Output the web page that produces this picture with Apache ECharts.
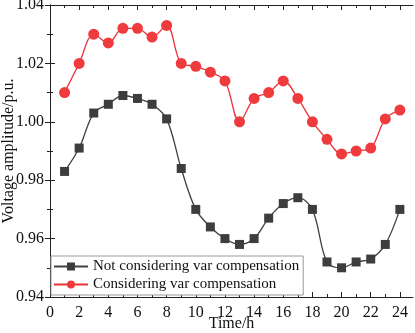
<!DOCTYPE html>
<html><head><meta charset="utf-8">
<script src="https://cdn.jsdelivr.net/npm/echarts@6/dist/echarts.min.js"></script>
<style>html,body{margin:0;padding:0;background:#fff}#c{width:415px;height:333px}</style>
</head><body><div id="c"></div>
<script>
var hours = [1,2,3,4,5,6,7,8,9,10,11,12,13,14,15,16,17,18,19,20,21,22,23,24];
var notConsidering = [0.983,0.991,1.003,1.006,1.009,1.008,1.006,1.001,0.984,0.970,0.964,0.960,0.958,0.960,0.967,0.972,0.974,0.970,0.952,0.950,0.952,0.953,0.958,0.970];
var considering = [1.010,1.020,1.030,1.027,1.032,1.032,1.029,1.033,1.020,1.019,1.017,1.014,1.000,1.008,1.010,1.014,1.008,1.000,0.994,0.989,0.990,0.991,1.001,1.004];
var xTicks = [0,2,4,6,8,10,12,14,16,18,20,22,24];
var seriesNames = ['Not considering var compensation','Considering var compensation'];

var font = 'Liberation Serif';
var axisCol = '#222';
function pairs(v){ return hours.map(function(h,i){return [h,v[i]];}); }
var chart = echarts.init(document.getElementById('c'));
var baseX = {
  type:'value', min:0, max:24.9, interval:2,
  axisLine:{show:true,lineStyle:{color:axisCol,width:1}},
  axisTick:{show:true,inside:true,length:5,customValues:xTicks,lineStyle:{color:axisCol}},
  minorTick:{show:true,splitNumber:2,length:3,lineStyle:{color:axisCol}},
  splitLine:{show:false}
};
var baseY = {
  type:'value', min:0.94, max:1.04, interval:0.02,
  axisLine:{show:true,lineStyle:{color:axisCol,width:1}},
  axisTick:{show:true,inside:true,length:5,lineStyle:{color:axisCol}},
  minorTick:{show:true,splitNumber:2,length:3,lineStyle:{color:axisCol}},
  splitLine:{show:false}
};
chart.setOption({
  animation:false,
  grid:{left:50,top:5,right:2,bottom:36,containLabel:false,outerBoundsMode:'none'},
  legend:{
    left:51, top:256, orient:'vertical', itemGap:3,
    itemWidth:34, itemHeight:10,
    padding:[3,4,3,2],
    borderColor:'#999', borderWidth:1, backgroundColor:'#fff',
    textStyle:{fontFamily:font,fontSize:15,color:'#111'},
    data:seriesNames
  },
  xAxis:[
    Object.assign({}, baseX, {
      position:'bottom',
      name:'Time/h', nameLocation:'middle', nameGap:19, nameMoveOverlap:false,
      nameTextStyle:{fontFamily:font,fontSize:16,color:'#111'},
      axisLabel:{show:true,customValues:xTicks,fontFamily:font,fontSize:16,color:'#111',margin:8}
    }),
    Object.assign({}, baseX, {position:'top', axisLabel:{show:false}})
  ],
  yAxis:[
    Object.assign({}, baseY, {
      position:'left',
      name:'Voltage amplitude/p.u.', nameLocation:'middle', nameGap:33, nameMoveOverlap:false,
      nameTextStyle:{fontFamily:font,fontSize:16,color:'#111'},
      axisLabel:{show:true,fontFamily:font,fontSize:16,color:'#111',margin:6,
        formatter:function(v){return v.toFixed(2);}}
    }),
    Object.assign({}, baseY, {position:'right', axisLabel:{show:false}})
  ],
  series:[
    {name:seriesNames[0], type:'line', smooth:0.35, data:pairs(notConsidering),
     symbol:'rect', symbolSize:9,
     lineStyle:{color:'#404040',width:1.3},
     itemStyle:{color:'#3d3d3d'}, z:3},
    {name:seriesNames[1], type:'line', smooth:0.35, data:pairs(considering),
     symbol:'circle', symbolSize:11,
     lineStyle:{color:'#ec3237',width:1.3},
     itemStyle:{color:'#ef3a3e'}, z:4}
  ]
});
</script></body></html>
